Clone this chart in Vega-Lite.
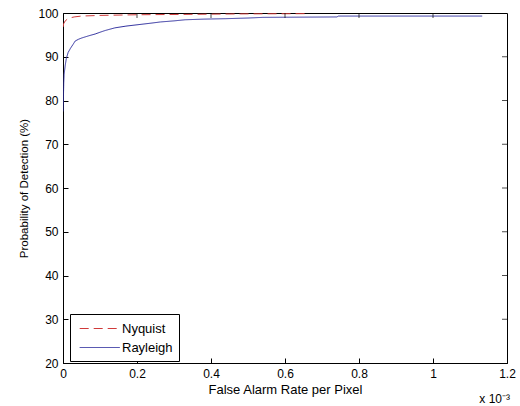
{
  "$schema": "https://vega.github.io/schema/vega-lite/v6.json",
  "width": 444,
  "height": 350,
  "autosize": {"type": "none"},
  "padding": {"left": 63, "top": 13, "right": 13, "bottom": 43},
  "background": "white",
  "config": {
    "font": "Liberation Sans",
    "view": {"stroke": "#000", "strokeWidth": 1},
    "axis": {
      "grid": false,
      "tickSize": -5,
      "tickColor": "#000",
      "domainColor": "#000",
      "labelColor": "#000",
      "titleColor": "#000",
      "labelFontSize": 12,
      "titleFontSize": 12,
      "titleFontWeight": "normal",
      "labelFont": "Liberation Sans",
      "titleFont": "Liberation Sans"
    },
    "legend": {
      "orient": "none",
      "legendX": 7,
      "legendY": 301,
      "strokeColor": "#000",
      "fillColor": "#fff",
      "padding": 6,
      "labelFontSize": 13,
      "labelColor": "#000",
      "labelFont": "Liberation Sans",
      "symbolType": "M-0.6,0H4.4",
      "symbolStrokeWidth": 1,
      "symbolSize": 256,
      "rowPadding": 3,
      "labelOffset": 29
    }
  },
  "layer": [
    {
      "data": {
        "values": [
          {"series": "Nyquist", "far": 0, "pd": 96.8},
          {"series": "Nyquist", "far": 0.002, "pd": 97.6},
          {"series": "Nyquist", "far": 0.006, "pd": 98.2},
          {"series": "Nyquist", "far": 0.012, "pd": 98.6},
          {"series": "Nyquist", "far": 0.02, "pd": 98.9},
          {"series": "Nyquist", "far": 0.03, "pd": 99.1},
          {"series": "Nyquist", "far": 0.05, "pd": 99.3},
          {"series": "Nyquist", "far": 0.1, "pd": 99.45},
          {"series": "Nyquist", "far": 0.2, "pd": 99.6},
          {"series": "Nyquist", "far": 0.35, "pd": 99.7},
          {"series": "Nyquist", "far": 0.48, "pd": 99.8},
          {"series": "Nyquist", "far": 0.655, "pd": 99.85},
          {"series": "Rayleigh", "far": 0, "pd": 77.5},
          {"series": "Rayleigh", "far": 0.001, "pd": 80},
          {"series": "Rayleigh", "far": 0.002, "pd": 84},
          {"series": "Rayleigh", "far": 0.003, "pd": 86},
          {"series": "Rayleigh", "far": 0.006, "pd": 88},
          {"series": "Rayleigh", "far": 0.009, "pd": 89.6},
          {"series": "Rayleigh", "far": 0.014, "pd": 91},
          {"series": "Rayleigh", "far": 0.02, "pd": 91.9},
          {"series": "Rayleigh", "far": 0.027, "pd": 92.8},
          {"series": "Rayleigh", "far": 0.033, "pd": 93.6},
          {"series": "Rayleigh", "far": 0.042, "pd": 94.0},
          {"series": "Rayleigh", "far": 0.051, "pd": 94.3},
          {"series": "Rayleigh", "far": 0.07, "pd": 94.8},
          {"series": "Rayleigh", "far": 0.087, "pd": 95.2},
          {"series": "Rayleigh", "far": 0.1, "pd": 95.6},
          {"series": "Rayleigh", "far": 0.114, "pd": 96.0},
          {"series": "Rayleigh", "far": 0.14, "pd": 96.6},
          {"series": "Rayleigh", "far": 0.17, "pd": 97.0},
          {"series": "Rayleigh", "far": 0.2, "pd": 97.3},
          {"series": "Rayleigh", "far": 0.24, "pd": 97.7},
          {"series": "Rayleigh", "far": 0.263, "pd": 97.95},
          {"series": "Rayleigh", "far": 0.3, "pd": 98.2},
          {"series": "Rayleigh", "far": 0.33, "pd": 98.45},
          {"series": "Rayleigh", "far": 0.38, "pd": 98.6},
          {"series": "Rayleigh", "far": 0.44, "pd": 98.7},
          {"series": "Rayleigh", "far": 0.5, "pd": 98.85},
          {"series": "Rayleigh", "far": 0.54, "pd": 99.0},
          {"series": "Rayleigh", "far": 0.64, "pd": 99.05},
          {"series": "Rayleigh", "far": 0.74, "pd": 99.1},
          {"series": "Rayleigh", "far": 0.745, "pd": 99.3},
          {"series": "Rayleigh", "far": 1.133, "pd": 99.3}
        ]
      },
      "mark": {"type": "line", "strokeWidth": 1, "clip": true},
      "encoding": {
        "x": {
          "field": "far",
          "type": "quantitative",
          "scale": {"domain": [0, 1.2], "nice": false, "zero": false},
          "axis": {"values": [0, 0.2, 0.4, 0.6, 0.8, 1, 1.2], "format": "~g", "title": "False Alarm Rate per Pixel", "titleFontSize": 13, "labelPadding": 10, "titlePadding": 4, "labelFlush": false}
        },
        "y": {
          "field": "pd",
          "type": "quantitative",
          "scale": {"domain": [20, 100], "nice": false, "zero": false},
          "axis": {"values": [20, 30, 40, 50, 60, 70, 80, 90, 100], "title": "Probability of Detection (%)", "titleFontSize": 11.5, "labelPadding": 10, "titlePadding": 8, "labelFlush": false}
        },
        "color": {
          "field": "series",
          "type": "nominal",
          "scale": {"domain": ["Nyquist", "Rayleigh"], "range": ["#d03a3a", "#2e2e9e"]},
          "legend": {"title": null}
        },
        "strokeDash": {
          "field": "series",
          "type": "nominal",
          "scale": {"domain": ["Nyquist", "Rayleigh"], "range": [[9, 5], [1, 0]]},
          "legend": {"title": null}
        }
      }
    },
    {
      "data": {"values": [{"t": 0.2}, {"t": 0.4}, {"t": 0.6}, {"t": 0.8}, {"t": 1.0}]},
      "mark": {"type": "tick", "orient": "vertical", "size": 10, "thickness": 1, "color": "#000", "clip": true},
      "encoding": {
        "x": {"field": "t", "type": "quantitative"},
        "y": {"datum": 100, "type": "quantitative"}
      }
    },
    {
      "data": {"values": [{"v": 30}, {"v": 40}, {"v": 50}, {"v": 60}, {"v": 70}, {"v": 80}, {"v": 90}]},
      "mark": {"type": "tick", "orient": "horizontal", "size": 10, "thickness": 1, "color": "#000", "clip": true},
      "encoding": {
        "y": {"field": "v", "type": "quantitative"},
        "x": {"datum": 1.2, "type": "quantitative"}
      }
    },
    {
      "data": {"values": [{"label": "x 10⁻³", "xa": 1.2, "ya": 20}]},
      "mark": {"type": "text", "align": "right", "baseline": "middle", "dx": 3, "dy": 36, "fontSize": 12, "font": "Liberation Sans", "color": "#000"},
      "encoding": {
        "x": {"field": "xa", "type": "quantitative"},
        "y": {"field": "ya", "type": "quantitative"},
        "text": {"field": "label"}
      }
    }
  ]
}
